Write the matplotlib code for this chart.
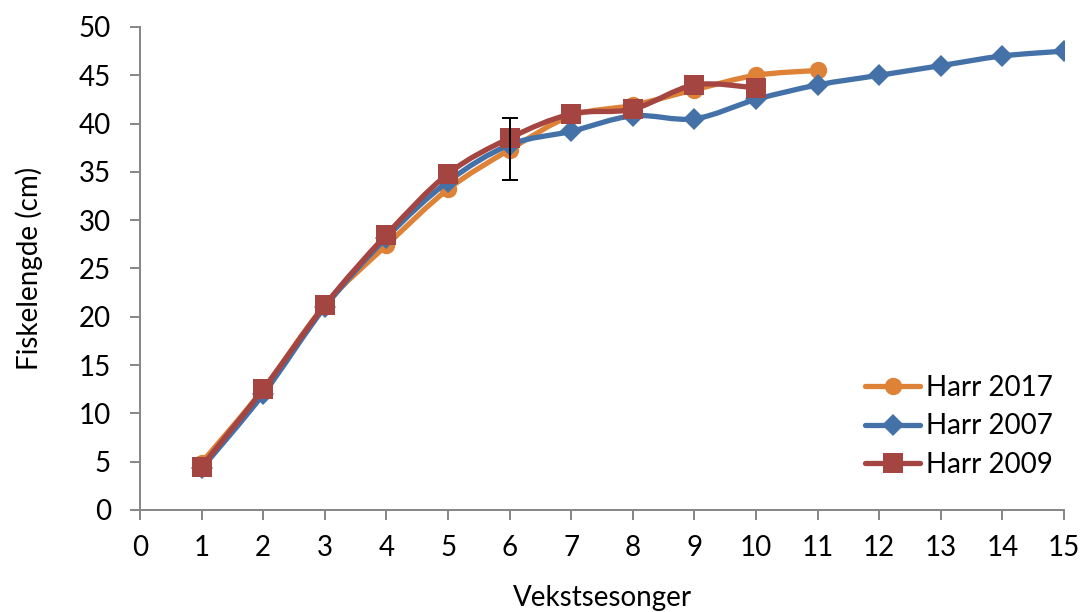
import numpy as np
import matplotlib
matplotlib.use("Agg")
import matplotlib.pyplot as plt
from matplotlib.path import Path
from matplotlib.patches import PathPatch
from matplotlib.lines import Line2D

plt.rcParams['font.family'] = ['Lato', 'DejaVu Sans']

# data
seasons = list(range(1, 16))
harr2017 = [4.9, 12.5, 21.2, 27.4, 33.2, 37.3, 40.8, 41.9, 43.5, 45.0, 45.5]
harr2007 = [4.3, 12.0, 21.0, 28.2, 34.0, 37.8, 39.2, 40.8, 40.5, 42.5, 44.0, 45.0, 46.0, 47.0, 47.5]
harr2009 = [4.5, 12.5, 21.2, 28.5, 34.8, 38.5, 41.0, 41.5, 44.0, 43.7]
err_x = 6
err_y = 37.4
err_size = 3.2

xticks = list(range(0, 16))
yticks = list(range(0, 51, 5))


def smooth_path(xs, ys):
    # Excel-style smoothed line: cubic bezier through the points
    p = np.column_stack([xs, ys]).astype(float)
    n = len(p)
    verts = [p[0]]
    codes = [Path.MOVETO]
    for i in range(n - 1):
        p0 = p[i - 1] if i > 0 else p[i]
        p3 = p[i + 2] if i + 2 < n else p[i + 1]
        c1 = p[i] + (p[i + 1] - p0) / 6
        c2 = p[i + 1] - (p3 - p[i]) / 6
        verts += [c1, c2, p[i + 1]]
        codes += [Path.CURVE4] * 3
    return Path(verts, codes)


fig = plt.figure(figsize=(10.83, 6.12), dpi=100)
ax = fig.add_axes([0.1293, 0.1667, 0.8532, 0.7892])

series = [
    ("Harr 2017", harr2017, "#DD8236", "o", 12.5),
    ("Harr 2007", harr2007, "#4472A8", "D", 11),
    ("Harr 2009", harr2009, "#A54542", "s", 14),
]

handles = []
for z, (name, vals, col, mk, ms) in enumerate(series):
    xs = seasons[:len(vals)]
    patch = PathPatch(smooth_path(xs, vals), facecolor="none", edgecolor=col,
                      lw=3.8, zorder=2 + z * 2, capstyle="round", joinstyle="round")
    ax.add_patch(patch)
    ax.plot(xs, vals, linestyle="none", marker=mk, ms=ms, color=col,
            markeredgewidth=0, zorder=3 + z * 2)
    handles.append(Line2D([], [], color=col, lw=3.8, marker=mk, ms=ms,
                          markeredgewidth=0, solid_capstyle="round"))

ax.errorbar([err_x], [err_y], yerr=[err_size], fmt="none", ecolor="black",
            elinewidth=1.4, capsize=6, capthick=1.4, zorder=10)

ax.set_xlim(0, 15)
ax.set_ylim(0, 50)
ax.set_xticks(xticks)
ax.set_yticks(yticks)
ax.tick_params(labelsize=20, length=7, width=1.4, color="#868686")
ax.tick_params(axis="x", pad=11)
ax.tick_params(axis="y", pad=14)
for s in ["top", "right"]:
    ax.spines[s].set_visible(False)
for s in ["left", "bottom"]:
    ax.spines[s].set_color("#868686")
    ax.spines[s].set_linewidth(1.4)

ax.set_xlabel("Vekstsesonger", fontsize=20, va="center")
ax.set_ylabel("Fiskelengde (cm)", fontsize=20, va="center")
ax.xaxis.set_label_coords(0.5, -0.182)
ax.yaxis.set_label_coords(-0.120, 0.5)

ax.legend(handles, [s[0] for s in series], loc="lower right",
          bbox_to_anchor=(1.015, 0.015), frameon=False, fontsize=20,
          handlelength=2.0, handletextpad=0.2, labelspacing=0.45)

fig.savefig("out.png", dpi=100)
